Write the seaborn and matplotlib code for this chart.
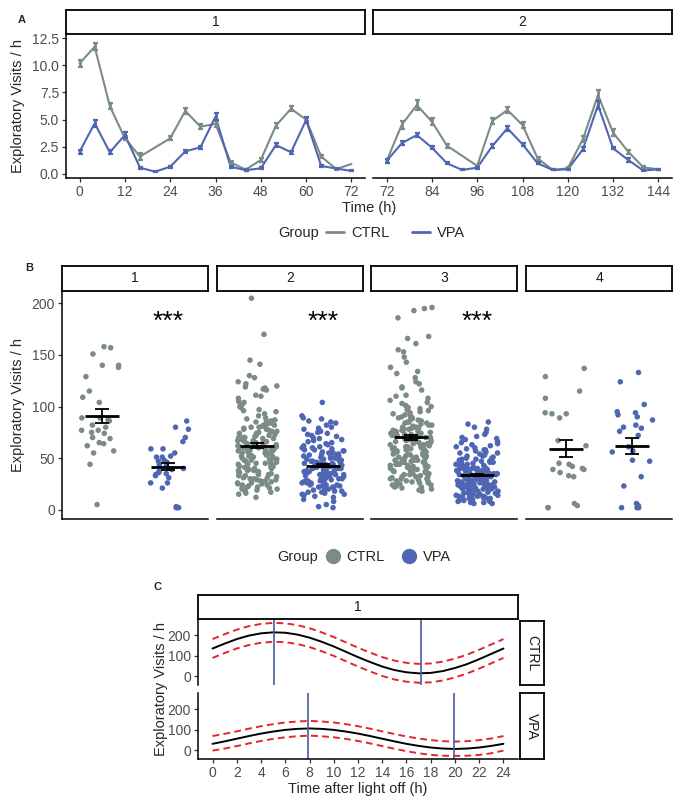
import numpy as np
import pandas as pd
import seaborn as sns
import matplotlib.pyplot as plt
from matplotlib.lines import Line2D

sns.set_style("ticks")
plt.rcParams['font.family'] = ['Liberation Sans', 'DejaVu Sans']
plt.rcParams['axes.linewidth'] = 1.1
plt.rcParams['axes.edgecolor'] = 'black'

# Colours
CTRL_COLOR = '#7b8b85'
VPA_COLOR = '#4f67b3'
palette = {'CTRL': CTRL_COLOR, 'VPA': VPA_COLOR}
groups = ['CTRL', 'VPA']

# ---------------- Panel A data: hourly visits in 4 h bins ----------------
ctrl_t1 = [0, 4, 8, 12, 16, 24, 28, 32, 36, 40, 44, 48, 52, 56, 60, 64, 68, 72]
ctrl_v1 = [10.17, 11.7, 6.25, 3.28, 1.6, 3.28, 5.8, 4.35, 4.6, 1.07, 0.4, 1.29, 4.45, 6.0, 5.0, 1.6, 0.45, 0.92]
ctrl_s1 = [0.3, 0.3, 0.3, 0.2, 0.35, 0.2, 0.25, 0.2, 0.25, 0.15, 0.1, 0.2, 0.2, 0.25, 0.15, 0.1, 0.05, 0.0]
vpa_t1 = [0, 4, 8, 12, 16, 20, 24, 28, 32, 36, 40, 44, 48, 52, 56, 60, 64, 68, 72]
vpa_v1 = [2.05, 4.66, 2.0, 3.58, 0.58, 0.21, 0.67, 2.08, 2.45, 5.27, 0.67, 0.35, 0.52, 2.66, 2.0, 4.96, 0.74, 0.5, 0.28]
vpa_s1 = [0.2, 0.3, 0.2, 0.25, 0.1, 0.05, 0.08, 0.15, 0.15, 0.3, 0.1, 0.08, 0.08, 0.2, 0.15, 0.25, 0.1, 0.05, 0.05]

ctrl_t2 = [72, 76, 80, 84, 88, 96, 100, 104, 108, 112, 116, 120, 124, 128, 132, 136, 140, 144]
ctrl_v2 = [1.19, 4.5, 6.34, 4.81, 2.6, 0.74, 4.87, 5.88, 4.5, 1.44, 0.37, 0.52, 3.2, 7.26, 3.8, 2.05, 0.61, 0.43]
ctrl_s2 = [0.15, 0.35, 0.5, 0.3, 0.2, 0.1, 0.3, 0.25, 0.3, 0.15, 0.05, 0.1, 0.3, 0.45, 0.3, 0.2, 0.1, 0.05]
vpa_t2 = [72, 76, 80, 84, 88, 92, 96, 100, 104, 108, 112, 116, 120, 124, 128, 132, 136, 140, 144]
vpa_v2 = [1.19, 2.82, 3.58, 2.42, 0.98, 0.37, 0.58, 2.57, 4.2, 2.73, 0.98, 0.37, 0.43, 2.27, 6.34, 2.36, 1.29, 0.31, 0.43]
vpa_s2 = [0.15, 0.2, 0.2, 0.15, 0.1, 0.05, 0.1, 0.15, 0.25, 0.15, 0.1, 0.05, 0.05, 0.2, 0.4, 0.1, 0.15, 0.05, 0.05]

# ---------------- Panel B data: visits per animal and period ----------------
b_ctrl_1 = [158, 157, 151, 140, 138, 140, 129, 115, 109, 104, 89, 89, 87, 82, 86, 80, 77, 74, 75, 77,
            70, 69, 65, 62, 64, 57, 55, 44, 5]
b_vpa_1 = [86, 78, 80, 70, 66, 59, 59, 55, 52, 51, 51, 48, 46, 47, 43, 43, 40, 39, 37, 36,
           35, 34, 33, 31, 26, 26, 21, 2, 2, 3, 2]
b_ctrl_2 = [205, 170, 145, 141, 130, 128, 124, 122, 120, 119, 118, 117, 116, 111, 110, 108, 105, 104, 102, 100,
            99, 97, 96, 95, 93, 91, 89, 88, 87, 86, 86, 85, 84, 83, 82, 82, 81, 80, 80,
            79, 78, 78, 77, 76, 76, 75, 74, 74, 73, 72, 72, 71, 70, 70, 70,
            69, 69, 68, 67, 67, 66, 66, 65, 65, 64, 64, 63, 63, 62, 62, 61, 61, 60, 60, 60,
            59, 59, 58, 58, 57, 57, 56, 56, 55, 55, 54, 54, 53, 53, 52, 52, 51, 51, 50, 50,
            49, 49, 48, 48, 47, 46, 46, 45, 45, 44, 43, 43, 42, 41, 41, 40,
            39, 38, 38, 37, 36, 35, 35, 34, 33, 32, 31, 30, 29, 28, 27, 26, 25, 24, 23, 22, 21, 20,
            19, 17, 15, 12, 44, 42, 40, 38, 36, 34, 33, 31, 30, 29, 28, 27, 26, 25, 24, 22, 21, 20, 18, 16]
b_vpa_2 = [104, 91, 89, 88, 86, 85, 84, 82, 80, 79, 78, 76, 75, 74, 73, 72, 71, 70,
           69, 68, 67, 66, 65, 64, 63, 62, 61, 60, 60,
           59, 58, 58, 57, 57, 56, 55, 55, 54, 54, 53, 53, 52, 52, 51, 51, 50, 50, 50,
           49, 49, 48, 48, 47, 47, 46, 46, 45, 45, 45, 44, 44, 43, 43, 42, 42, 42, 41, 41, 40, 40, 40,
           39, 39, 38, 38, 37, 37, 36, 36, 35, 35, 35, 34, 34, 33, 33, 32, 32, 31, 31, 30, 30,
           29, 29, 28, 28, 27, 27, 26, 26, 25, 25, 24, 24, 23, 23, 22, 21, 20, 20,
           19, 18, 18, 17, 16, 15, 14, 13, 12, 10, 8, 5, 2,
           44, 43, 41, 39, 37, 36, 34, 32, 30, 28, 27, 26, 24, 22, 21, 19, 17, 15, 3]
b_ctrl_3 = [196, 195, 193, 186, 168, 166, 161, 155, 153, 148, 143, 138, 134, 132, 128, 124, 122, 119, 118, 116,
            111, 110, 108, 106, 104, 103, 101, 100, 99, 98, 97, 96, 95, 94, 93, 92, 91, 90,
            89, 89, 88, 88, 87, 86, 86, 85, 85, 84, 84, 83, 82, 82, 81, 80, 80,
            79, 79, 78, 78, 77, 77, 76, 76, 75, 75, 74, 74, 73, 73, 72, 72, 71, 71, 70, 70,
            69, 69, 68, 68, 67, 67, 66, 66, 65, 65, 64, 64, 63, 63, 62, 62, 61, 61, 60, 60, 60,
            59, 59, 58, 58, 57, 57, 56, 56, 55, 55, 54, 54, 53, 53, 52, 52, 51, 51, 50, 50, 50,
            49, 49, 48, 48, 47, 47, 46, 46, 45, 45, 44, 44, 43, 43, 42, 42, 41, 41, 40, 40,
            39, 39, 38, 37, 37, 36, 35, 35, 34, 33, 32, 32, 31, 30, 30,
            29, 28, 28, 27, 26, 25, 25, 24, 23, 22, 21, 20, 19, 18,
            48, 46, 44, 42, 40, 38, 36, 34, 32, 30, 28, 26, 24, 22, 20]
b_vpa_3 = [85, 83, 80, 78, 75, 73, 71, 70, 69, 68, 66, 65, 64, 63, 62, 61, 60,
           59, 58, 58, 57, 56, 55, 55, 54, 53, 52, 52, 51, 50, 50,
           49, 49, 48, 48, 47, 47, 46, 46, 45, 45, 44, 44, 43, 43, 42, 42, 41, 41, 40, 40, 40,
           39, 39, 39, 38, 38, 38, 37, 37, 37, 36, 36, 36, 35, 35, 35, 34, 34, 34, 33, 33, 33,
           32, 32, 32, 31, 31, 31, 30, 30, 30,
           29, 29, 29, 28, 28, 28, 27, 27, 27, 26, 26, 26, 25, 25, 25, 24, 24, 24, 23, 23, 23,
           22, 22, 22, 21, 21, 21, 20, 20, 20,
           19, 19, 18, 18, 17, 17, 16, 16, 15, 15, 14, 14, 13, 13, 12, 12, 11, 10, 9, 8, 7, 6,
           35, 34, 33, 32, 31, 30, 29, 28, 27, 26, 25, 24, 23, 22, 21, 20, 19, 18, 17, 16,
           15, 14, 13, 12, 11, 10, 9, 8, 7, 6]
b_ctrl_4 = [137, 129, 115, 108, 93, 94, 93, 89, 67, 62, 44, 39, 40, 45, 42, 39, 36, 32, 33, 2, 2, 4, 6]
b_vpa_4 = [133, 124, 102, 94, 95, 92, 90, 87, 82, 80, 79, 76, 72, 61, 56, 57, 48, 47, 32, 23, 4, 2, 2, 6, 2]

b_mean_ctrl = [90.8, 62.0, 70.0, 59.2]
b_sem_ctrl = [6.4, 2.4, 2.6, 7.9]
b_mean_vpa = [41.8, 42.8, 33.8, 61.7]
b_sem_vpa = [3.2, 1.5, 1.3, 7.9]
b_signif = ['***', '***', '***', '']

# ---------------- Panel C data: cosinor fit over one day ----------------
hours = list(range(25))
ctrl_fit = [136, 160, 182, 199, 210, 215, 213, 204, 189, 169, 146, 120, 94, 70, 48, 31, 20, 15, 17, 26, 41, 60, 84, 110, 136]
ctrl_upper = [182, 206, 228, 245, 256, 261, 259, 250, 235, 215, 192, 166, 140, 116, 94, 77, 66, 61, 63, 72, 87, 106, 130, 156, 182]
ctrl_lower = [90, 114, 136, 153, 164, 169, 167, 158, 143, 123, 100, 74, 48, 24, 2, -15, -26, -31, -29, -20, -5, 14, 38, 64, 90]
vpa_fit = [32, 44, 57, 70, 82, 92, 100, 105, 107, 105, 100, 92, 82, 70, 57, 44, 32, 22, 14, 9, 7, 9, 14, 22, 32]
vpa_upper = [70, 81, 93, 106, 118, 128, 136, 141, 144, 141, 136, 128, 118, 106, 93, 80, 68, 58, 50, 45, 43, 45, 50, 58, 70]
vpa_lower = [-1, 9, 21, 34, 46, 56, 64, 69, 72, 69, 64, 56, 46, 34, 21, 8, -4, -14, -22, -26, -27, -26, -22, -14, -1]
ctrl_phase_lines = [5.1, 17.2]
vpa_phase_lines = [7.9, 19.9]

W, H = 685, 810
fig = plt.figure(figsize=(W / 100, H / 100), dpi=100)

TICK_COLOR = '#333333'
LABEL_COLOR = '#4d4d4d'
TICK_SIZE = 10
TITLE_SIZE = 10.5


def px_axes(x0, y0, x1, y1):
    return fig.add_axes([x0 / W, 1 - y1 / H, (x1 - x0) / W, (y1 - y0) / H])


def strip(x0, y0, x1, y1, label, rotation=0):
    s = px_axes(x0, y0, x1, y1)
    s.set_xticks([])
    s.set_yticks([])
    for sp in s.spines.values():
        sp.set_visible(True)
        sp.set_linewidth(1.3)
        sp.set_color('black')
    s.text(0.5, 0.5, label, ha='center', va='center', rotation=rotation,
           fontsize=10, color='#1a1a1a', transform=s.transAxes)
    return s


def style_axes(ax, left=True, bottom=True, xticks=True):
    sns.despine(ax=ax, left=not left, bottom=not bottom)
    ax.tick_params(axis='both', length=3, width=0.9, color=TICK_COLOR,
                   labelcolor=LABEL_COLOR, labelsize=TICK_SIZE, pad=2)
    if not left:
        ax.tick_params(axis='y', left=False, labelleft=False)
    if not xticks:
        ax.tick_params(axis='x', bottom=False, labelbottom=False)
    ax.set_xlabel('')
    ax.set_ylabel('')


# ================= Panel A =================
df_a = pd.concat([
    pd.DataFrame({'time': ctrl_t1, 'visits': ctrl_v1, 'sem': ctrl_s1, 'Group': 'CTRL', 'day': 1}),
    pd.DataFrame({'time': vpa_t1, 'visits': vpa_v1, 'sem': vpa_s1, 'Group': 'VPA', 'day': 1}),
    pd.DataFrame({'time': ctrl_t2, 'visits': ctrl_v2, 'sem': ctrl_s2, 'Group': 'CTRL', 'day': 2}),
    pd.DataFrame({'time': vpa_t2, 'visits': vpa_v2, 'sem': vpa_s2, 'Group': 'VPA', 'day': 2}),
])

a_boxes = {1: (66, 34, 365, 178), 2: (373, 34, 672, 178)}
a_xticks = {1: range(0, 73, 12), 2: range(72, 145, 12)}
for day in [1, 2]:
    x0, y0, x1, y1 = a_boxes[day]
    ax = px_axes(x0, y0, x1, y1)
    sub = df_a[df_a['day'] == day]
    sns.lineplot(data=sub, x='time', y='visits', hue='Group', hue_order=groups,
                 palette=palette, estimator=None, linewidth=1.5, legend=False, ax=ax)
    for g in groups:
        gs = sub[(sub['Group'] == g) & (sub['sem'] > 0)]
        ax.errorbar(gs['time'], gs['visits'], yerr=gs['sem'], fmt='none',
                    ecolor=palette[g], elinewidth=2.0, capsize=1.8, capthick=1.6)
    lo = min(a_xticks[day])
    ax.set_xlim(lo - 3.6, lo + 72 + 3.6)
    ax.set_ylim(-0.37, 12.87)
    ax.set_xticks(list(a_xticks[day]))
    ax.set_yticks([0, 2.5, 5, 7.5, 10, 12.5])
    ax.set_yticklabels(['0.0', '2.5', '5.0', '7.5', '10.0', '12.5'])
    style_axes(ax, left=(day == 1))
    strip(x0, 10, x1, y0, str(day))

fig.text(22 / W, 1 - 20 / H, 'A', fontsize=8, weight='bold', ha='center', va='center')
fig.text(18 / W, 1 - 106 / H, 'Exploratory Visits / h', rotation=90, fontsize=TITLE_SIZE,
         ha='center', va='center')
fig.text(369 / W, 1 - 208 / H, 'Time (h)', fontsize=TITLE_SIZE, ha='center', va='center')
fig.text(278 / W, 1 - 233 / H, 'Group', fontsize=TITLE_SIZE, ha='left', va='center')
line_handles = [Line2D([], [], color=palette[g], lw=2) for g in groups]
fig.legend(line_handles, groups, loc='center left', bbox_to_anchor=(326 / W, 1 - 233 / H),
           ncol=2, frameon=False, handlelength=1.2, handletextpad=0.5, columnspacing=1.6,
           borderpad=0, borderaxespad=0, fontsize=TITLE_SIZE)

# ================= Panel B =================
b_values = [(b_ctrl_1, b_vpa_1), (b_ctrl_2, b_vpa_2), (b_ctrl_3, b_vpa_3), (b_ctrl_4, b_vpa_4)]
rows = []
for i, (c, v) in enumerate(b_values):
    rows.append(pd.DataFrame({'visits': c, 'Group': 'CTRL', 'period': i + 1}))
    rows.append(pd.DataFrame({'visits': v, 'Group': 'VPA', 'period': i + 1}))
df_b = pd.concat(rows, ignore_index=True)

np.random.seed(3)
b_x = [(62, 208), (217, 363), (371, 517), (526, 672)]
for i, (x0, x1) in enumerate(b_x):
    ax = px_axes(x0, 291, x1, 519)
    sub = df_b[df_b['period'] == i + 1]
    sns.stripplot(data=sub, x='Group', y='visits', hue='Group', order=groups, hue_order=groups,
                  palette=palette, jitter=0.32, size=4, linewidth=0, legend=False, ax=ax)
    means = [b_mean_ctrl[i], b_mean_vpa[i]]
    sems = [b_sem_ctrl[i], b_sem_vpa[i]]
    for k in range(2):
        ax.hlines(means[k], k - 0.26, k + 0.26, color='black', lw=2.0, zorder=5)
    ax.errorbar([0, 1], means, yerr=sems, fmt='none', ecolor='black', elinewidth=1.3,
                capsize=5, capthick=1.3, zorder=5)
    if b_signif[i]:
        ax.text(1, 182, b_signif[i], ha='center', va='center', fontsize=19, color='black')
    ax.set_xlim(-0.6, 1.6)
    ax.set_ylim(-9, 212)
    ax.set_yticks([0, 50, 100, 150, 200])
    style_axes(ax, left=(i == 0), xticks=False)
    strip(x0, 266, x1, 291, str(i + 1))

fig.text(29 / W, 1 - 268 / H, 'B', fontsize=8, weight='bold', ha='center', va='center')
fig.text(18 / W, 1 - 405 / H, 'Exploratory Visits / h', rotation=90, fontsize=TITLE_SIZE,
         ha='center', va='center')
fig.text(277 / W, 1 - 557 / H, 'Group', fontsize=TITLE_SIZE, ha='left', va='center')
dot_handles = [Line2D([], [], color=palette[g], marker='o', ls='', ms=10) for g in groups]
fig.legend(dot_handles, groups, loc='center left', bbox_to_anchor=(326 / W, 1 - 557 / H),
           ncol=2, frameon=False, handlelength=1.0, handletextpad=0.4, columnspacing=1.2,
           borderpad=0, borderaxespad=0, fontsize=TITLE_SIZE)

# ================= Panel C =================
c_sets = {
    'CTRL': (ctrl_fit, ctrl_upper, ctrl_lower, ctrl_phase_lines, (619, 685)),
    'VPA': (vpa_fit, vpa_upper, vpa_lower, vpa_phase_lines, (693, 759)),
}
for g, (fit, up, low, phases, (y0, y1)) in c_sets.items():
    ax = px_axes(198, y0, 518, y1)
    df_c = pd.DataFrame({'hour': hours, 'fit': fit, 'upper': up, 'lower': low})
    sns.lineplot(data=df_c, x='hour', y='fit', color='black', linewidth=1.4, ax=ax)
    for col in ['upper', 'lower']:
        sns.lineplot(data=df_c, x='hour', y=col, color='#e3262b', linewidth=1.4,
                     dashes=False, ax=ax).lines[-1].set_dashes((3.5, 2.2))
    for p in phases:
        ax.axvline(p, color='#4a5d9e', lw=1.2)
    ax.set_xlim(-1.2, 25.2)
    ax.set_ylim(-42, 280)
    ax.set_yticks([0, 100, 200])
    ax.set_xticks(list(range(0, 25, 2)))
    style_axes(ax, left=True, bottom=(g == 'VPA'), xticks=(g == 'VPA'))
    strip(520, y0 + (2 if g == 'CTRL' else 0), 544, y1, g, rotation=-90)
strip(198, 595, 518, 619, '1')

fig.text(157 / W, 1 - 587 / H, 'C', fontsize=8, weight='bold', ha='center', va='center')
fig.text(161 / W, 1 - 689 / H, 'Exploratory Visits / h', rotation=90, fontsize=TITLE_SIZE,
         ha='center', va='center')
fig.text(358 / W, 1 - 789 / H, 'Time after light off (h)', fontsize=TITLE_SIZE,
         ha='center', va='center')

fig.savefig('out.png', dpi=100, facecolor='white')
